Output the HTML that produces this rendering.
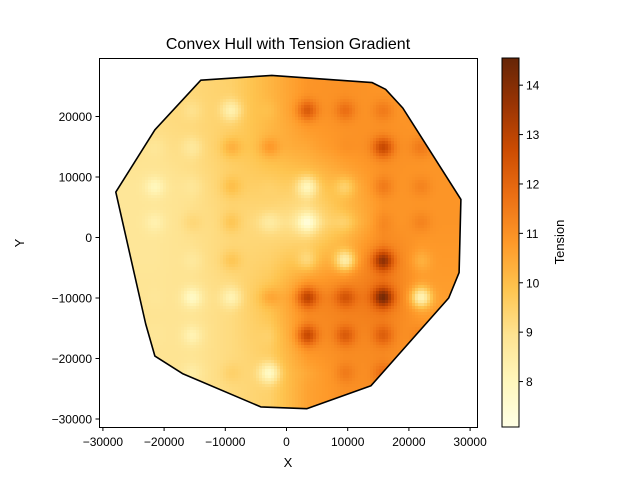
<!DOCTYPE html>
<html><head><meta charset="utf-8"><style>
body{margin:0;background:#fff}
svg text{font-family:"Liberation Sans","DejaVu Sans",sans-serif;fill:#000}
</style></head><body>
<svg id="chart" width="640" height="480" viewBox="0 0 640 480" xmlns="http://www.w3.org/2000/svg">
<defs>
<clipPath id="hullclip"><polygon id="hullpoly" points=""/></clipPath>
<linearGradient id="cbgrad" x1="0" y1="1" x2="0" y2="0">
<stop offset="0" stop-color="#ffffe5"/><stop offset="0.125" stop-color="#fff7bc"/><stop offset="0.25" stop-color="#fee391"/><stop offset="0.375" stop-color="#fec44f"/><stop offset="0.5" stop-color="#fe9929"/><stop offset="0.625" stop-color="#ec7014"/><stop offset="0.75" stop-color="#cc4c02"/><stop offset="0.875" stop-color="#993404"/><stop offset="1" stop-color="#662506"/>
</linearGradient>
</defs>
<text x="288" y="49" font-size="16" text-anchor="middle">Convex Hull with Tension Gradient</text>
<g id="heat" clip-path="url(#hullclip)"></g>
<polygon id="hullline" fill="none" stroke="#000" stroke-width="1.6" stroke-linejoin="round" points=""/>
<rect x="99.5" y="58.5" width="378" height="369" fill="none" stroke="#000" stroke-width="1"/>
<g id="xticks"></g>
<g id="yticks"></g>
<text x="288" y="467" font-size="13" text-anchor="middle">X</text>
<text x="24" y="243" font-size="13" text-anchor="middle" transform="rotate(-90 24 243)">Y</text>
<rect x="502" y="58" width="17" height="369" fill="url(#cbgrad)" stroke="#000" stroke-width="1"/>
<g id="cbticks"></g>
<text x="564" y="242" font-size="13" text-anchor="middle" transform="rotate(-90 564 242)">Tension</text>
</svg>
<script>
const gridX=[-21500,-15400,-9000,-2800,3400,9600,15800,22000];
const gridY=[21000,14900,8400,2500,-3800,-9900,-16200,-22400];
const background=[
[9.2,9.3,9.5,10.2,10.9,11.0,10.9,10.9],
[9.0,9.2,9.6,10.1,10.6,10.9,11.1,10.9],
[8.8,9.0,9.5,9.6,9.6,10.3,10.9,10.9],
[8.8,9.0,9.3,9.2,8.8,9.9,10.9,10.9],
[8.8,9.0,9.3,9.5,10.1,10.6,11.5,10.8],
[8.9,8.9,9.2,9.9,11.2,11.4,11.7,10.7],
[8.9,8.9,9.2,9.7,11.0,11.2,11.2,10.9],
[8.9,8.9,9.2,9.5,10.6,11.0,11.1,10.9]];
const tension=[
[9.0,9.0,8.3,10.0,12.3,11.8,11.5,11.5],
[8.8,8.7,10.3,10.8,10.5,11.0,12.8,11.5],
[8.0,8.8,10.0,9.5,8.0,9.5,11.5,11.3],
[8.3,9.3,9.8,8.6,7.3,9.5,11.2,11.3],
[8.8,8.7,9.8,9.5,9.3,8.5,13.8,10.3],
[8.8,7.8,8.2,10.5,13.0,12.5,14.3,8.2],
[8.8,8.2,9.2,9.5,12.8,12.3,12.2,11.3],
[8.8,8.5,9.5,7.8,10.5,11.5,11.8,11.5]];
const hullX=[-27900,-21500,-14000,-2400,14000,16200,19000,28500,28200,26500,13800,3300,-4200,-17000,-21500,-23000];
const hullY=[7500,17800,26000,26800,25600,24500,21400,6300,-5800,-10000,-24500,-28300,-28000,-22500,-19600,-14300];
const xTicks=[-30000,-20000,-10000,0,10000,20000,30000];
const yTicks=[-30000,-20000,-10000,0,10000,20000];
const cbTicks=[8,9,10,11,12,13,14];
const vmin=7.08, vmax=14.55;
const sx=v=>286.5+v*61.2/10000;
const sy=v=>237.5-v*60.5/10000;
const cby=v=>427-(v-vmin)/(vmax-vmin)*369;
const NS="http://www.w3.org/2000/svg";
const stops=["#ffffe5","#fff7bc","#fee391","#fec44f","#fe9929","#ec7014","#cc4c02","#993404","#662506"].map(h=>[1,3,5].map(i=>parseInt(h.substr(i,2),16)));
function cmap(v){let t=Math.max(0,Math.min(1,(v-vmin)/(vmax-vmin)))*(stops.length-1);let i=Math.min(stops.length-2,Math.floor(t));let f=t-i;const a=stops[i],b=stops[i+1];return `rgb(${a.map((c,k)=>Math.round(c+(b[k]-c)*f)).join(',')})`;}
const cx=gridX.map(sx), cy=gridY.map(sy);
function interp(x,y){
 let i=0;while(i<cx.length-2&&x>cx[i+1])i++;
 let j=0;while(j<cy.length-2&&y>cy[j+1])j++;
 let fx=Math.max(0,Math.min(1,(x-cx[i])/(cx[i+1]-cx[i])));
 let fy=Math.max(0,Math.min(1,(y-cy[j])/(cy[j+1]-cy[j])));
 const B=background;
 let v=B[j][i]*(1-fx)*(1-fy)+B[j][i+1]*fx*(1-fy)+B[j+1][i]*(1-fx)*fy+B[j+1][i+1]*fx*fy;
 const sig=7;
 for(let r=0;r<gridY.length;r++)for(let c=0;c<gridX.length;c++){
  const dx=x-cx[c],dy=y-cy[r];const d2=dx*dx+dy*dy;
  if(d2<900){v+=(tension[r][c]-B[r][c])*Math.exp(-d2/(2*sig*sig));}
 }
 return v;
}
const pts=hullX.map((x,i)=>sx(x).toFixed(1)+","+sy(hullY[i]).toFixed(1)).join(" ");
document.getElementById("hullpoly").setAttribute("points",pts);
document.getElementById("hullline").setAttribute("points",pts);
const heat=document.getElementById("heat");
const cs=3;
for(let y=60;y<427;y+=cs){for(let x=100;x<477;x+=cs){
 const r=document.createElementNS(NS,"rect");
 r.setAttribute("x",x);r.setAttribute("y",y);r.setAttribute("width",cs+0.5);r.setAttribute("height",cs+0.5);
 r.setAttribute("fill",cmap(interp(x+cs/2,y+cs/2)));
 
 
 heat.appendChild(r);}}
const xg=document.getElementById("xticks");
xTicks.forEach(v=>{const x=sx(v);
 const l=document.createElementNS(NS,"line");l.setAttribute("x1",x);l.setAttribute("x2",x);l.setAttribute("y1",427.5);l.setAttribute("y2",431);l.setAttribute("stroke","#000");
 
 
 xg.appendChild(l);
 const t=document.createElementNS(NS,"text");t.setAttribute("x",x);t.setAttribute("y",446);t.setAttribute("font-size","12");t.setAttribute("text-anchor","middle");t.textContent=v<0?"\u2212"+(-v):v;
 
 
 xg.appendChild(t);});
const yg=document.getElementById("yticks");
yTicks.forEach(v=>{const y=sy(v);
 const l=document.createElementNS(NS,"line");l.setAttribute("x1",95.5);l.setAttribute("x2",99.5);l.setAttribute("y1",y);l.setAttribute("y2",y);l.setAttribute("stroke","#000");
 
 
 yg.appendChild(l);
 const t=document.createElementNS(NS,"text");t.setAttribute("x",92);t.setAttribute("y",y+4.5);t.setAttribute("font-size","12");t.setAttribute("text-anchor","end");t.textContent=v<0?"\u2212"+(-v):v;
 
 
 yg.appendChild(t);});
const cg=document.getElementById("cbticks");
cbTicks.forEach(v=>{const y=cby(v);
 const l=document.createElementNS(NS,"line");l.setAttribute("x1",519);l.setAttribute("x2",523);l.setAttribute("y1",y);l.setAttribute("y2",y);l.setAttribute("stroke","#000");
 
 
 cg.appendChild(l);
 const t=document.createElementNS(NS,"text");t.setAttribute("x",526);t.setAttribute("y",y+4.5);t.setAttribute("font-size","12");t.textContent=v;
 
 
 cg.appendChild(t);});
</script>
</body></html>
